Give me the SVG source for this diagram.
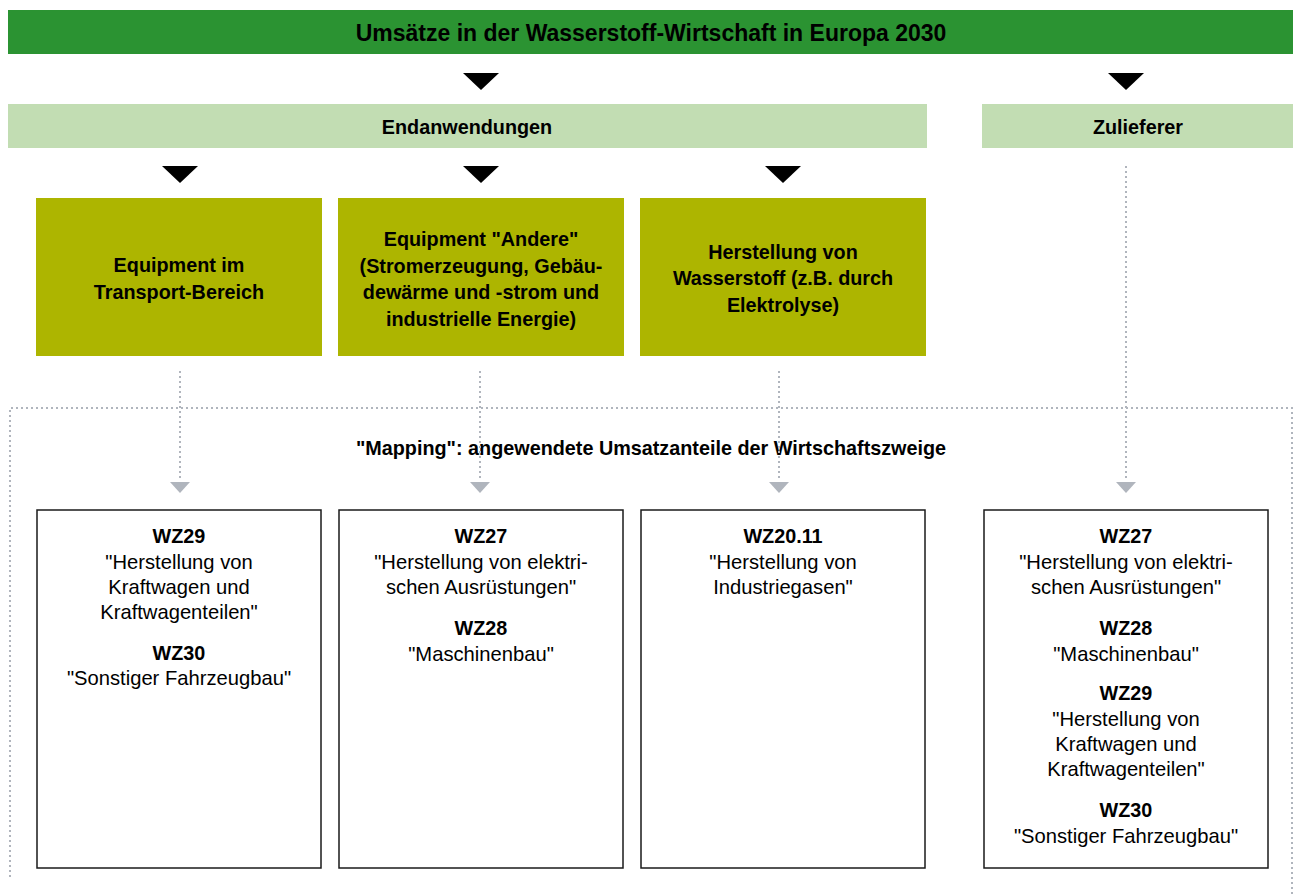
<svg xmlns="http://www.w3.org/2000/svg" width="1299" height="895" viewBox="0 0 1299 895">
<style>
.t{font-family:"Liberation Sans",Arial,sans-serif;fill:#000;text-anchor:middle}
.b{font-weight:bold;font-size:19.8px}
.r{font-size:20.2px}
.olive{fill:#adb500}
.light{fill:#c2ddb3}
.wbox{fill:#fff;stroke:#1a1a1a;stroke-width:1.5}
.dot{stroke:#b0b5bd;stroke-width:2;stroke-dasharray:2 3;fill:none}
.tri{fill:#000}
.gtri{fill:#b0b5bd}
</style>
<rect width="1299" height="895" fill="#fff"/>
<g id="header">
<rect x="8" y="10" width="1285" height="44" fill="#2b9332"/>
<text class="t" font-weight="bold" font-size="23" x="651" y="41">Umsätze in der Wasserstoff-Wirtschaft in Europa 2030</text>
</g>
<g id="endanwendungen">
<rect class="light" x="8" y="104" width="919" height="44"/>
<text class="t b" x="467" y="134">Endanwendungen</text>
</g>
<g id="zulieferer">
<rect class="light" x="982" y="104" width="311" height="44"/>
<text class="t b" x="1138" y="134">Zulieferer</text>
</g>
<g id="transport">
<rect class="olive" x="36" y="198" width="286" height="158"/>
<text class="t b" x="179" y="272">Equipment im</text>
<text class="t b" x="179" y="299">Transport-Bereich</text>
</g>
<g id="andere">
<rect class="olive" x="338" y="198" width="286" height="158"/>
<text class="t b" x="481" y="246">Equipment "Andere"</text>
<text class="t b" x="481" y="273">(Stromerzeugung, Gebäu-</text>
<text class="t b" x="481" y="299">dewärme und -strom und</text>
<text class="t b" x="481" y="326">industrielle Energie)</text>
</g>
<g id="herstellung">
<rect class="olive" x="640" y="198" width="286" height="158"/>
<text class="t b" x="783" y="259">Herstellung von</text>
<text class="t b" x="783" y="285">Wasserstoff (z.B. durch</text>
<text class="t b" x="783" y="312">Elektrolyse)</text>
</g>
<g id="mapping">
<path class="dot" d="M10 877 V408 H1292 V895"/>
<text class="t b" x="651" y="455">"Mapping": angewendete Umsatzanteile der Wirtschaftszweige</text>
</g>
<g id="connectors">
<polygon class="tri" points="463,73 499,73 481,90"/>
<polygon class="tri" points="1108,73 1144,73 1126,90"/>
<polygon class="tri" points="162,166 198,166 180,183"/>
<polygon class="tri" points="463,166 499,166 481,183"/>
<polygon class="tri" points="765,166 801,166 783,183"/>
<line class="dot" x1="180" y1="371" x2="180" y2="478"/>
<line class="dot" x1="480" y1="371" x2="480" y2="478"/>
<line class="dot" x1="779" y1="371" x2="779" y2="478"/>
<line class="dot" x1="1126" y1="166" x2="1126" y2="478"/>
<polygon class="gtri" points="170,482 190,482 180,493"/>
<polygon class="gtri" points="470,482 490,482 480,493"/>
<polygon class="gtri" points="769,482 789,482 779,493"/>
<polygon class="gtri" points="1116,482 1136,482 1126,493"/>
</g>
<g id="wz-transport">
<rect class="wbox" x="37" y="510" width="284" height="358"/>
<text class="t b" x="179" y="543">WZ29</text>
<text class="t r" x="179" y="569">"Herstellung von</text>
<text class="t r" x="179" y="594">Kraftwagen und</text>
<text class="t r" x="179" y="619">Kraftwagenteilen"</text>
<text class="t b" x="179" y="660">WZ30</text>
<text class="t r" x="179" y="685">"Sonstiger Fahrzeugbau"</text>
</g>
<g id="wz-andere">
<rect class="wbox" x="339" y="510" width="284" height="358"/>
<text class="t b" x="481" y="543">WZ27</text>
<text class="t r" x="481" y="569">"Herstellung von elektri-</text>
<text class="t r" x="481" y="594">schen Ausrüstungen"</text>
<text class="t b" x="481" y="635">WZ28</text>
<text class="t r" x="481" y="661">"Maschinenbau"</text>
</g>
<g id="wz-herstellung">
<rect class="wbox" x="641" y="510" width="284" height="358"/>
<text class="t b" x="783" y="543">WZ20.11</text>
<text class="t r" x="783" y="569">"Herstellung von</text>
<text class="t r" x="783" y="594">Industriegasen"</text>
</g>
<g id="wz-zulieferer">
<rect class="wbox" x="984" y="510" width="284" height="358"/>
<text class="t b" x="1126" y="543">WZ27</text>
<text class="t r" x="1126" y="569">"Herstellung von elektri-</text>
<text class="t r" x="1126" y="594">schen Ausrüstungen"</text>
<text class="t b" x="1126" y="635">WZ28</text>
<text class="t r" x="1126" y="661">"Maschinenbau"</text>
<text class="t b" x="1126" y="700">WZ29</text>
<text class="t r" x="1126" y="726">"Herstellung von</text>
<text class="t r" x="1126" y="751">Kraftwagen und</text>
<text class="t r" x="1126" y="776">Kraftwagenteilen"</text>
<text class="t b" x="1126" y="817">WZ30</text>
<text class="t r" x="1126" y="843">"Sonstiger Fahrzeugbau"</text>
</g>
</svg>
